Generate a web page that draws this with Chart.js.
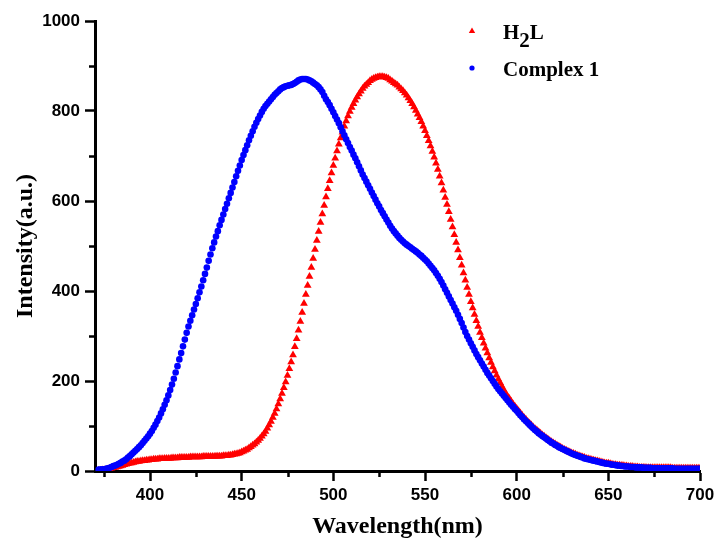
<!DOCTYPE html>
<html>
<head>
<meta charset="utf-8">
<script src="https://cdn.jsdelivr.net/npm/chart.js@4.4.1/dist/chart.umd.min.js"></script>
<style>
  html, body { margin: 0; padding: 0; background: #fff; }
  #wrap { width: 720px; height: 545px; }
</style>
</head>
<body>
<div id="wrap"><canvas id="spectrum" width="720" height="545"></canvas></div>
<script>
// emission spectra at 1 nm
const wavelengths = [
  372,373,374,375,376,377,378,379,380,381,
  382,383,384,385,386,387,388,389,390,391,
  392,393,394,395,396,397,398,399,400,401,
  402,403,404,405,406,407,408,409,410,411,
  412,413,414,415,416,417,418,419,420,421,
  422,423,424,425,426,427,428,429,430,431,
  432,433,434,435,436,437,438,439,440,441,
  442,443,444,445,446,447,448,449,450,451,
  452,453,454,455,456,457,458,459,460,461,
  462,463,464,465,466,467,468,469,470,471,
  472,473,474,475,476,477,478,479,480,481,
  482,483,484,485,486,487,488,489,490,491,
  492,493,494,495,496,497,498,499,500,501,
  502,503,504,505,506,507,508,509,510,511,
  512,513,514,515,516,517,518,519,520,521,
  522,523,524,525,526,527,528,529,530,531,
  532,533,534,535,536,537,538,539,540,541,
  542,543,544,545,546,547,548,549,550,551,
  552,553,554,555,556,557,558,559,560,561,
  562,563,564,565,566,567,568,569,570,571,
  572,573,574,575,576,577,578,579,580,581,
  582,583,584,585,586,587,588,589,590,591,
  592,593,594,595,596,597,598,599,600,601,
  602,603,604,605,606,607,608,609,610,611,
  612,613,614,615,616,617,618,619,620,621,
  622,623,624,625,626,627,628,629,630,631,
  632,633,634,635,636,637,638,639,640,641,
  642,643,644,645,646,647,648,649,650,651,
  652,653,654,655,656,657,658,659,660,661,
  662,663,664,665,666,667,668,669,670,671,
  672,673,674,675,676,677,678,679,680,681,
  682,683,684,685,686,687,688,689,690,691,
  692,693,694,695,696,697,698,699,700
];

const h2lIntensity = [
  1,1,2,2,3,4,5,6,7,8,
  9,10,11,12,14,15,16,17,18,19,
  20,21,21,22,23,23,24,24,25,25,
  26,26,26,27,27,27,28,28,28,28,
  29,29,29,29,30,30,30,30,30,30,
  31,31,31,31,31,31,31,32,32,32,
  32,32,32,32,33,33,33,33,34,34,
  34,35,35,36,37,38,39,40,42,44,
  46,48,51,54,57,60,64,68,72,77,
  82,88,95,102,110,119,128,138,149,160,
  172,185,198,212,227,242,258,276,294,313,
  332,352,372,392,412,432,452,472,492,512,
  532,552,571,590,609,627,645,662,679,695,
  711,726,740,753,766,778,789,799,808,816,
  824,831,838,844,850,855,859,863,867,870,
  872,874,875,876,876,876,875,874,872,869,
  866,863,860,857,853,849,845,840,835,829,
  823,816,809,801,793,785,776,766,756,745,
  734,722,710,697,684,670,655,640,624,608,
  592,576,559,542,525,508,491,474,457,440,
  424,408,392,376,362,348,334,321,308,296,
  284,273,262,251,241,231,222,213,204,196,
  188,180,173,166,161,155,149,144,139,134,
  129,124,119,115,110,106,102,98,94,91,
  87,84,80,77,74,71,68,65,62,60,
  57,55,53,50,48,46,44,42,40,39,
  37,35,34,32,31,30,28,27,26,25,
  24,23,22,21,20,19,18,17,17,16,
  15,14,14,13,13,12,12,11,11,10,
  10,10,9,9,9,8,8,8,8,7,
  7,7,7,7,7,7,7,7,7,7,
  7,7,7,6,6,6,6,6,6,6,
  6,6,6,6,6,6,6,6,6
];

const complex1Intensity = [
  3,3,4,4,5,6,7,9,11,12,
  14,16,18,21,23,26,30,33,37,41,
  45,49,53,57,62,67,72,77,83,89,
  96,103,111,119,128,137,147,157,168,180,
  192,205,219,233,248,262,277,292,307,321,
  334,346,359,371,384,397,410,424,438,452,
  467,481,495,508,521,533,546,558,570,582,
  594,606,618,630,642,655,667,679,691,702,
  713,724,735,745,755,765,774,782,790,798,
  805,811,816,821,826,831,836,840,844,848,
  851,853,855,856,857,858,860,862,865,868,
  870,871,871,871,870,868,866,863,860,857,
  853,848,842,834,826,820,813,805,797,789,
  781,773,764,755,746,737,729,720,712,703,
  695,686,677,668,659,651,643,635,627,619,
  611,603,595,588,580,573,566,559,552,545,
  539,533,528,523,518,514,510,506,503,500,
  497,494,491,488,485,481,478,474,470,466,
  461,456,451,446,440,434,427,420,412,404,
  396,388,380,372,364,356,347,338,329,319,
  309,300,292,284,276,268,260,253,246,239,
  232,225,218,212,206,200,194,188,182,177,
  172,167,162,157,152,147,143,138,134,129,
  124,120,115,111,107,103,99,95,91,88,
  84,81,78,75,72,69,66,63,61,58,
  56,53,51,49,47,45,43,41,39,37,
  36,34,33,31,30,28,27,26,25,24,
  23,22,21,20,19,18,17,16,16,15,
  14,14,13,12,12,11,11,10,10,10,
  9,9,9,8,8,8,8,7,7,7,
  7,7,6,6,6,6,6,6,6,6,
  6,6,6,6,5,5,5,5,5,5,
  5,5,5,5,5,5,5,5,5
];

const seriesNames = ['H2L', 'Complex 1'];
const seriesColors = ['#ff0000', '#0000ff'];

const xLabelTicks = [400, 450, 500, 550, 600, 650, 700];
const xMinorTicks = [375, 425, 475, 525, 575, 625, 675];
const yLabelTicks = [0, 200, 400, 600, 800, 1000];
const yMinorTicks = [100, 300, 500, 700, 900];

function toPoints(ys) {
    return wavelengths.map((w, i) => ({ x: w, y: ys[i] }));
}

// short ticks between the labelled ones
const minorTicks = {
    id: 'minorTicks',
    afterDraw(chart) {
        const ctx = chart.ctx;
        const xs = chart.scales.x;
        const ys = chart.scales.y;
        ctx.save();
        ctx.strokeStyle = '#000';
        ctx.lineWidth = 2.5;
        ctx.beginPath();
        xMinorTicks.forEach(v => {
            const px = Math.round(xs.getPixelForValue(v)) + 0.5;
            ctx.moveTo(px, xs.top);
            ctx.lineTo(px, xs.top + 6);
        });
        yMinorTicks.forEach(v => {
            const py = Math.round(ys.getPixelForValue(v)) + 0.5;
            ctx.moveTo(ys.right, py);
            ctx.lineTo(ys.right - 6, py);
        });
        ctx.stroke();
        ctx.restore();
    }
};

// legend in the upper right of the plot, with subscript digits
const cornerLegend = {
    id: 'cornerLegend',
    afterDraw(chart) {
        const ctx = chart.ctx;
        const area = chart.chartArea;
        const mx = area.left + 377;
        const tx = area.left + 408;
        ctx.save();
        chart.data.datasets.forEach((ds, i) => {
            const my = area.top + 10 + i * 37;
            ctx.fillStyle = ds.backgroundColor;
            ctx.beginPath();
            if (ds.pointStyle === 'triangle') {
                ctx.moveTo(mx, my - 3.5);
                ctx.lineTo(mx + 3.2, my + 2);
                ctx.lineTo(mx - 3.2, my + 2);
                ctx.closePath();
            } else {
                ctx.arc(mx, my, 2.6, 0, Math.PI * 2);
            }
            ctx.fill();

            const base = my + 7.5;
            ctx.fillStyle = '#000';
            ctx.textBaseline = 'alphabetic';
            ctx.textAlign = 'left';
            ctx.font = 'bold 21px "Liberation Serif", "Times New Roman", serif';
            let x = tx;
            const parts = ds.label.split(/(?<=[A-Za-z])(\d+)/);
            parts.forEach((p, k) => {
                if (!p) return;
                const sub = k % 2 === 1;
                ctx.fillText(p, x, sub ? base + 8 : base);
                x += ctx.measureText(p).width;
            });
        });
        ctx.restore();
    }
};

const tickFont = { family: '"Liberation Sans", Arial, sans-serif', size: 17, weight: 'bold' };
const titleFont = { family: '"Liberation Serif", "Times New Roman", serif', size: 24, weight: 'bold' };

new Chart(document.getElementById('spectrum'), {
    type: 'scatter',
    data: {
        datasets: [
            {
                label: seriesNames[0],
                data: toPoints(h2lIntensity),
                pointStyle: 'triangle',
                pointRadius: 4.5,
                pointBorderWidth: 0,
                backgroundColor: seriesColors[0],
                borderColor: seriesColors[0],
                order: 2
            },
            {
                label: seriesNames[1],
                data: toPoints(complex1Intensity),
                pointStyle: 'circle',
                pointRadius: 3.3,
                pointBorderWidth: 0,
                backgroundColor: seriesColors[1],
                borderColor: seriesColors[1],
                order: 1
            }
        ]
    },
    options: {
        responsive: false,
        animation: false,
        layout: { padding: { top: 21, right: 20, bottom: 0, left: 0 } },
        plugins: {
            legend: { display: false },
            tooltip: { enabled: false }
        },
        scales: {
            x: {
                type: 'linear',
                min: 370,
                max: 700,
                afterBuildTicks: s => { s.ticks = xLabelTicks.map(v => ({ value: v })); },
                afterFit: s => { s.height = 74; },
                border: { display: true, color: '#000', width: 3 },
                grid: { drawOnChartArea: false, drawTicks: true, tickLength: 10, tickWidth: 2.5, tickColor: '#000' },
                ticks: { color: '#000', font: tickFont, padding: 4, maxRotation: 0, callback: v => String(v) },
                title: { display: true, text: 'Wavelength(nm)', color: '#000', font: titleFont, padding: { top: 0, bottom: 4 } }
            },
            y: {
                min: 0,
                max: 1000,
                afterBuildTicks: s => { s.ticks = yLabelTicks.map(v => ({ value: v })); },
                afterFit: s => { s.width = 95; },
                border: { display: true, color: '#000', width: 3 },
                grid: { drawOnChartArea: false, drawTicks: true, tickLength: 10, tickWidth: 2.5, tickColor: '#000' },
                ticks: { color: '#000', font: tickFont, padding: 5, callback: v => String(v) },
                title: { display: true, text: 'Intensity(a.u.)', color: '#000', font: titleFont, padding: { top: 11, bottom: 0 } }
            }
        }
    },
    plugins: [minorTicks, cornerLegend]
});
</script>
</body>
</html>
